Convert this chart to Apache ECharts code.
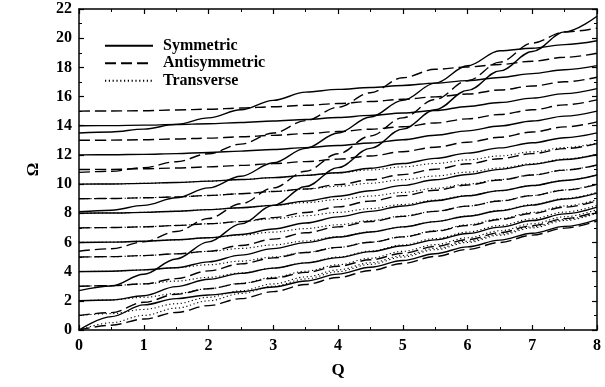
<!DOCTYPE html>
<html><head><meta charset="utf-8">
<script src="https://cdn.jsdelivr.net/npm/echarts@6/dist/echarts.min.js"></script>
<style>html,body{margin:0;padding:0;background:#fff}#c{width:605px;height:387px}</style>
</head><body><div id="c"></div>
<script>
// Wavenumber grid (x)
const Q = [0,0.5,1,1.5,2,2.5,3,3.5,4,4.5,5,5.5,6,6.5,7,7.5,8];
const xTicks = [0,1,2,3,4,5,6,7,8];
const yTicks = [0,2,4,6,8,10,12,14,16,18,20,22];

// Symmetric modes (Omega read at each Q)
const symS0  = [0,0.92,1.72,2.15,2.4,2.62,2.95,3.36,3.83,4.3,4.76,5.23,5.7,6.16,6.63,7.1,7.57];
const symS2  = [2,2.06,2.35,2.97,3.48,3.88,4.24,4.6,4.96,5.37,5.77,6.18,6.61,7.05,7.5,7.96,8.42];
const symS4  = [4,4.03,4.12,4.27,4.67,5.13,5.58,5.99,6.37,6.72,7.07,7.43,7.8,8.17,8.56,8.98,9.38];
const symS6  = [6,6.02,6.08,6.19,6.32,6.55,6.92,7.33,7.75,8.13,8.5,8.86,9.2,9.55,9.9,10.25,10.62];
const symS8  = [8,8.02,8.06,8.14,8.25,8.38,8.54,8.83,9.17,9.54,9.91,10.3,10.66,11.01,11.35,11.69,12.03];
const symS10 = [10,10.01,10.05,10.11,10.2,10.31,10.44,10.6,10.78,11.09,11.41,11.76,12.12,12.48,12.83,13.18,13.51];
const symS12 = [12,12.01,12.04,12.09,12.17,12.26,12.37,12.5,12.65,12.82,13.04,13.35,13.65,13.98,14.32,14.66,15];
const symS14 = [14,14.01,14.04,14.08,14.14,14.22,14.32,14.43,14.56,14.71,14.87,15.04,15.32,15.59,15.89,16.2,16.54];
const symL1  = [2.7,3.02,3.82,4.87,6.04,7.27,8.54,9.83,11.13,12.45,13.77,15.09,16.42,17.76,19.09,20.43,21.5];
const symL3  = [8.1,8.21,8.54,9.06,9.74,10.54,11.46,12.45,13.5,14.6,15.74,16.92,18.11,19.14,19.31,19.56,19.82];
const symL5  = [13.5,13.57,13.77,14.09,14.54,15.09,15.74,16.3,16.49,16.62,16.76,16.92,17.09,17.31,17.57,17.84,18.12];

// Antisymmetric modes
const antA0  = [0,0.33,0.75,1.2,1.67,2.15,2.63,3.12,3.6,4.08,4.56,5.04,5.52,6.0,6.5,6.98,7.47];
const antA1  = [1,1.19,1.9,2.45,2.83,3.18,3.55,3.95,4.37,4.81,5.26,5.72,6.19,6.67,7.15,7.63,8.12];
const antA3  = [3,3.04,3.16,3.52,4.05,4.53,4.94,5.31,5.66,6.01,6.38,6.77,7.16,7.57,7.99,8.42,8.85];
const antA5  = [5,5.03,5.1,5.22,5.39,5.79,6.23,6.66,7.07,7.44,7.79,8.13,8.49,8.84,9.21,9.59,9.97];
const antA7  = [7,7.02,7.07,7.16,7.28,7.43,7.7,8.05,8.44,8.83,9.21,9.58,9.94,10.28,10.62,10.96,11.31];
const antA9  = [9,9.01,9.06,9.12,9.22,9.34,9.49,9.66,9.96,10.3,10.65,11.02,11.39,11.74,12.09,12.43,12.77];
const antA11 = [11,11.01,11.05,11.1,11.18,11.28,11.4,11.54,11.71,11.93,12.22,12.53,12.87,13.21,13.57,13.92,14.26];
const antA13 = [13,13.01,13.04,13.09,13.15,13.24,13.34,13.46,13.6,13.76,13.93,14.19,14.47,14.77,15.09,15.43,15.77];
const antA15 = [15,15.01,15.03,15.08,15.13,15.21,15.3,15.4,15.52,15.66,15.81,15.98,16.17,16.45,16.72,17.01,17.32];
const antL2  = [5.4,5.57,6.04,6.75,7.64,8.65,9.74,10.88,12.08,13.3,14.54,15.8,17.08,18.36,19.66,20.42,20.69];
const antL4  = [10.8,10.88,11.13,11.53,12.08,12.74,13.5,14.35,15.27,16.26,17.29,17.87,18.03,18.2,18.42,18.69,18.97];

// Transverse modes
const trT0  = [0,0.5,1,1.5,2,2.5,3,3.5,4,4.5,5,5.5,6,6.5,7,7.5,8];
const trT1  = [1,1.12,1.41,1.8,2.24,2.69,3.16,3.64,4.12,4.61,5.1,5.59,6.08,6.58,7.07,7.57,8.06];
const trT2  = [2,2.06,2.24,2.5,2.83,3.2,3.61,4.03,4.47,4.92,5.39,5.85,6.32,6.8,7.28,7.76,8.25];
const trT3  = [3,3.04,3.16,3.35,3.61,3.91,4.24,4.61,5,5.41,5.83,6.27,6.71,7.16,7.62,8.08,8.54];
const trT4  = [4,4.03,4.12,4.27,4.47,4.72,5,5.32,5.66,6.02,6.4,6.8,7.21,7.63,8.06,8.5,8.94];
const trT5  = [5,5.02,5.1,5.22,5.39,5.59,5.83,6.1,6.4,6.73,7.07,7.43,7.81,8.2,8.6,9.01,9.43];
const trT6  = [6,6.02,6.08,6.18,6.32,6.5,6.71,6.95,7.21,7.5,7.81,8.14,8.49,8.85,9.22,9.6,10];
const trT7  = [7,7.02,7.07,7.16,7.28,7.43,7.62,7.83,8.06,8.32,8.6,8.9,9.22,9.55,9.9,10.26,10.63];
const trT8  = [8,8.02,8.06,8.14,8.25,8.38,8.54,8.73,8.94,9.18,9.43,9.71,10,10.31,10.63,10.97,11.31];
const trT9  = [9,9.01,9.06,9.12,9.22,9.34,9.49,9.66,9.85,10.06,10.3,10.55,10.82,11.1,11.4,11.72,12.04];
const trT10 = [10,10.01,10.05,10.11,10.2,10.31,10.44,10.6,10.77,10.97,11.18,11.41,11.66,11.93,12.21,12.5,12.81];

const symmetric = [symS0,symS2,symS4,symS6,symS8,symS10,symS12,symS14,symL1,symL3,symL5];
const antisymmetric = [antA0,antA1,antA3,antA5,antA7,antA9,antA11,antA13,antA15,antL2,antL4];
const transverse = [trT0,trT1,trT2,trT3,trT4,trT5,trT6,trT7,trT8,trT9,trT10];

const FONT = 'Liberation Serif';
function mk(name, arr, dash, width){
  return {
    name, type:'line', data: arr.map((v,i)=>[Q[i], v]),
    showSymbol:false, symbol:'none', smooth:0.35, smoothMonotone:'x',
    silent:true, animation:false, clip:true,
    itemStyle:{color:'#000', opacity:0},
    lineStyle:{color:'#000', width:width, type:dash}
  };
}
const series = [];
transverse.forEach(a=>series.push(mk('Transverse', a, [1.2,2.6], 1.1)));
antisymmetric.forEach(a=>series.push(mk('Antisymmetric', a, [11,5], 1.4)));
symmetric.forEach(a=>series.push(mk('Symmetric', a, 'solid', 1.4)));

const axisCommon = {
  axisLine:{show:true, onZero:false, lineStyle:{color:'#000', width:1.5}},
  axisTick:{show:true, inside:true, length:5, lineStyle:{color:'#000', width:1.2}},
  minorTick:{show:true, splitNumber:2, length:3, lineStyle:{color:'#000', width:1}},
  splitLine:{show:false}
};
const chart = echarts.init(document.getElementById('c'), null, {renderer:'canvas'});
chart.setOption({
  animation:false,
  backgroundColor:'#fff',
  grid:{left:79, right:8, top:9, bottom:57},
  legend:{
    data:['Symmetric','Antisymmetric','Transverse'],
    orient:'vertical', left:99, top:32, itemWidth:48, itemHeight:10, itemGap:0,
    itemStyle:{opacity:0},
    textStyle:{fontFamily:FONT, fontSize:16, fontWeight:'bold', color:'#000', lineHeight:17.5, padding:[0,0,0,5]},
    selectedMode:false
  },
  xAxis:[
    Object.assign({type:'value', min:0, max:8, interval:1, position:'bottom',
      axisLabel:{color:'#000', fontFamily:FONT, fontSize:16, fontWeight:'bold', margin:8,
        formatter:v=>xTicks.includes(v)?String(v):''},
      name:'Q', nameLocation:'middle', nameGap:32,
      nameTextStyle:{color:'#000', fontFamily:FONT, fontSize:17, fontWeight:'bold'}}, axisCommon),
    Object.assign({type:'value', min:0, max:8, interval:1, position:'top', axisLabel:{show:false}}, axisCommon)
  ],
  yAxis:[
    Object.assign({type:'value', min:0, max:22, interval:2, position:'left',
      axisLabel:{color:'#000', fontFamily:FONT, fontSize:16, fontWeight:'bold', margin:7,
        formatter:v=>yTicks.includes(v)?String(v):''},
      name:'Ω', nameLocation:'middle', nameGap:37, nameRotate:90,
      nameTextStyle:{color:'#000', fontFamily:FONT, fontSize:17, fontWeight:'bold'}}, axisCommon),
    Object.assign({type:'value', min:0, max:22, interval:2, position:'right', axisLabel:{show:false}}, axisCommon)
  ],
  series
});
</script></body></html>
